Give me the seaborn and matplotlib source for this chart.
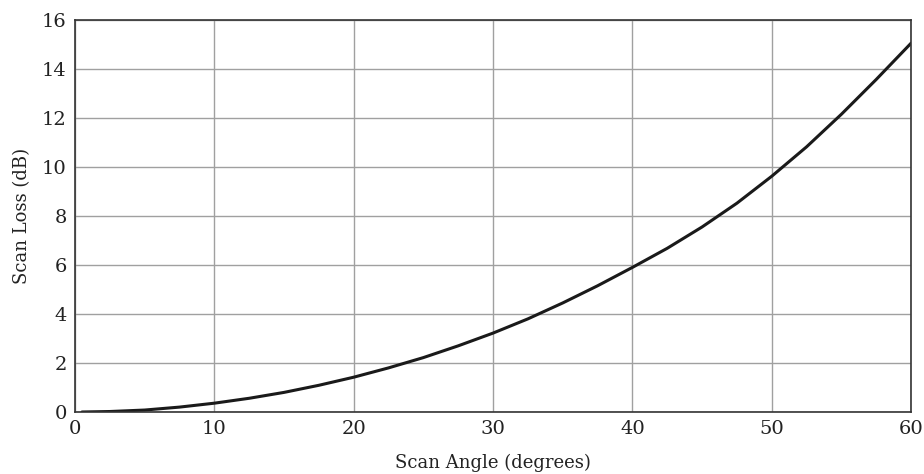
import matplotlib
matplotlib.use("Agg")
import matplotlib.pyplot as plt
import pandas as pd
import seaborn as sns

scan_angle_deg = [0.5, 2.5, 5, 7.5, 10, 12.5, 15, 17.5, 20, 22.5, 25, 27.5, 30, 32.5,
                  35, 37.5, 40, 42.5, 45, 47.5, 50, 52.5, 55, 57.5, 60]
scan_loss_db = [0.0, 0.02, 0.08, 0.2, 0.36, 0.56, 0.8, 1.09, 1.42, 1.8, 2.22, 2.7, 3.22,
                3.8, 4.45, 5.15, 5.9, 6.68, 7.55, 8.52, 9.62, 10.82, 12.15, 13.57, 15.05]

x_ticks = [0, 10, 20, 30, 40, 50, 60]
y_ticks = [0, 2, 4, 6, 8, 10, 12, 14, 16]

df = pd.DataFrame({"angle": scan_angle_deg, "loss": scan_loss_db})

sns.set_style("white")
plt.rcParams["font.family"] = ["DejaVu Serif"]

fig = plt.figure(figsize=(9.24, 4.74), dpi=100)
ax = fig.add_axes([0.0812, 0.1308, 0.9048, 0.8272])

sns.lineplot(data=df, x="angle", y="loss", color="#1a1a1a", linewidth=2.2, ax=ax)

ax.set_xlim(0, 60)
ax.set_ylim(0, 16)
ax.set_xticks(x_ticks)
ax.set_yticks(y_ticks)
ax.grid(True, color="#a0a0a0", linewidth=1.0)
ax.set_axisbelow(True)
ax.tick_params(length=0, labelsize=14, colors="#222222", pad=6)
for spine in ax.spines.values():
    spine.set_color("#333333")
    spine.set_linewidth(1.2)

ax.set_xlabel("Scan Angle (degrees)", fontsize=13, color="#222222", labelpad=11)
ax.set_ylabel("Scan Loss (dB)", fontsize=13, color="#222222", labelpad=8)

fig.savefig("out.png", dpi=100)
